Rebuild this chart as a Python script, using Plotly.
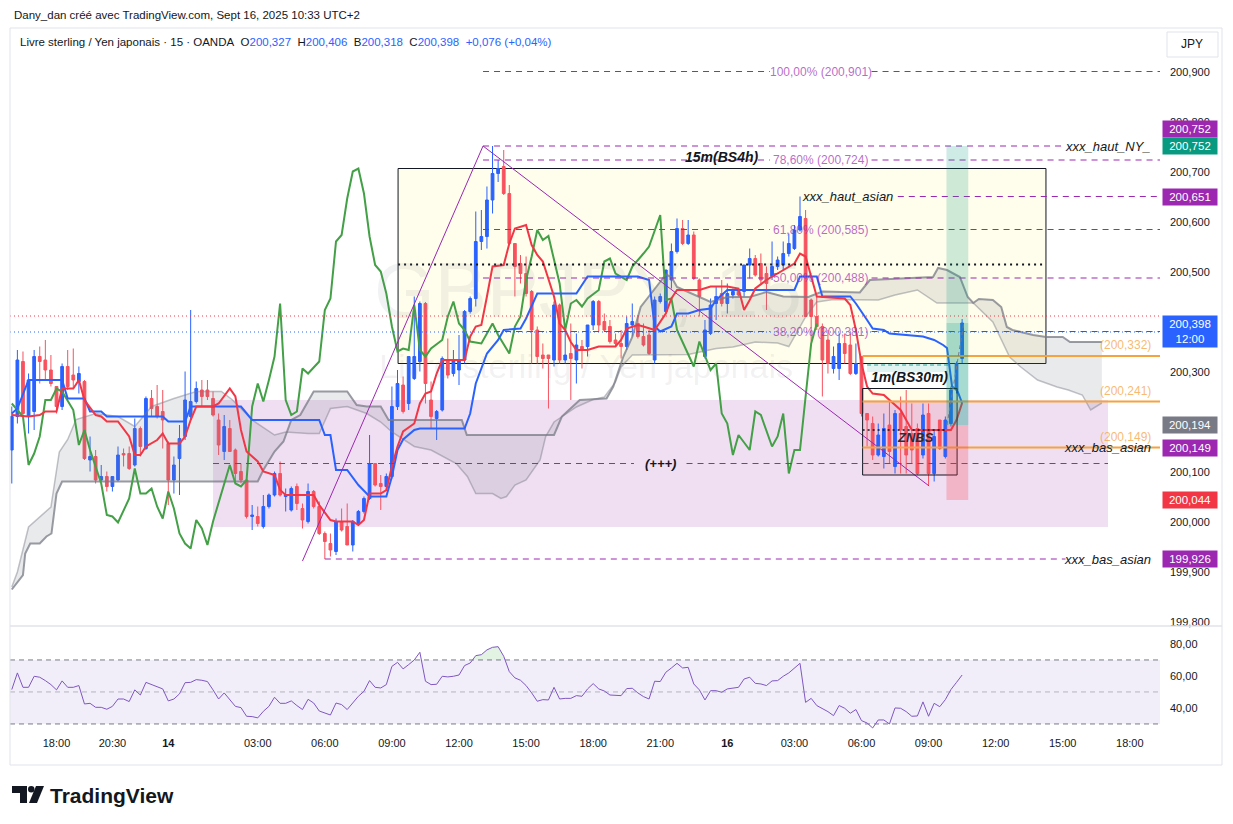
import plotly.graph_objects as go

# GBPJPY, 15 min, OANDA
# bar 0 = Friday 18:00, one bar = 15 min, the weekend gap is skipped
first_bar = -8

opens = [
    200.144, 200.211, 200.321, 200.211, 200.221, 200.331, 200.324, 200.304, 200.271, 200.231,
    200.311, 200.294, 200.281, 200.281, 200.124, 200.131, 200.084, 200.091, 200.071, 200.084,
    200.137, 200.137, 200.114, 200.187, 200.147, 200.247, 200.231, 200.221, 200.157, 200.084,
    200.127, 200.171, 200.211, 200.241, 200.264, 200.264, 200.247, 200.204, 200.141, 200.187,
    200.144, 200.101, 200.084, 200.011, 200.011, 199.991, 200.031, 200.054, 200.097, 200.051,
    200.024, 200.071, 200.027, 200.001, 200.061, 200.031, 199.977, 199.957, 199.941, 200.001,
    199.991, 199.954, 199.997, 200.021, 200.047, 200.117, 200.077, 200.071, 200.091, 200.231,
    200.274, 200.237, 200.287, 200.321, 200.437, 200.244, 200.207, 200.224, 200.324, 200.297,
    200.304, 200.324, 200.421, 200.447, 200.561, 200.571, 200.644, 200.697, 200.711, 200.657,
    200.557, 200.517, 200.497, 200.461, 200.384, 200.334, 200.334, 200.324, 200.434, 200.324,
    200.337, 200.324, 200.351, 200.351, 200.394, 200.441, 200.401, 200.391, 200.364, 200.357,
    200.351, 200.394, 200.397, 200.371, 200.374, 200.324, 200.441, 200.421, 200.484, 200.541,
    200.587, 200.557, 200.574, 200.484, 200.331, 200.377, 200.437, 200.457, 200.437, 200.454,
    200.461, 200.461, 200.514, 200.527, 200.517, 200.497, 200.491, 200.511, 200.514, 200.537,
    200.547, 200.584, 200.607, 200.444, 200.411, 200.391, 200.364, 200.307, 200.307, 200.357,
    200.354, 200.297, 200.331, 200.217, 200.197, 200.134, 200.131, 200.194, 200.111, 200.217,
    200.191, 200.177, 200.187, 200.134, 200.217, 200.097, 200.204, 200.131, 200.197, 200.264,
    200.327,
]
highs = [
    200.231, 200.344, 200.341, 200.297, 200.344, 200.351, 200.364, 200.334, 200.271, 200.317,
    200.344, 200.347, 200.311, 200.284, 200.171, 200.144, 200.114, 200.101, 200.091, 200.151,
    200.147, 200.151, 200.207, 200.191, 200.251, 200.264, 200.274, 200.264, 200.161, 200.131,
    200.194, 200.301, 200.424, 200.281, 200.284, 200.284, 200.261, 200.217, 200.214, 200.204,
    200.147, 200.117, 200.091, 200.034, 200.031, 200.054, 200.057, 200.101, 200.121, 200.067,
    200.071, 200.077, 200.037, 200.077, 200.064, 200.041, 199.981, 199.977, 200.007, 200.027,
    200.037, 200.004, 200.024, 200.051, 200.174, 200.117, 200.094, 200.097, 200.271, 200.304,
    200.291, 200.331, 200.451, 200.441, 200.440, 200.281, 200.224, 200.331, 200.367, 200.344,
    200.374, 200.424, 200.451, 200.621, 200.624, 200.671, 200.752, 200.724, 200.744, 200.674,
    200.557, 200.534, 200.531, 200.464, 200.391, 200.357, 200.334, 200.441, 200.437, 200.384,
    200.397, 200.377, 200.364, 200.394, 200.444, 200.444, 200.417, 200.404, 200.377, 200.384,
    200.411, 200.437, 200.414, 200.397, 200.384, 200.451, 200.457, 200.504, 200.557, 200.607,
    200.604, 200.604, 200.581, 200.487, 200.404, 200.447, 200.471, 200.484, 200.477, 200.467,
    200.464, 200.514, 200.547, 200.534, 200.537, 200.511, 200.561, 200.531, 200.561, 200.577,
    200.594, 200.651, 200.624, 200.447, 200.451, 200.397, 200.384, 200.351, 200.377, 200.377,
    200.377, 200.357, 200.331, 200.217, 200.211, 200.197, 200.217, 200.244, 200.224, 200.251,
    200.264, 200.237, 200.197, 200.237, 200.237, 200.184, 200.204, 200.211, 200.271, 200.321,
    200.406,
]
lows = [
    200.077, 200.197, 200.211, 200.177, 200.184, 200.277, 200.284, 200.271, 200.217, 200.224,
    200.264, 200.267, 200.257, 200.124, 200.101, 200.077, 200.081, 200.061, 200.061, 200.081,
    200.111, 200.104, 200.111, 200.131, 200.144, 200.211, 200.207, 200.147, 200.034, 200.057,
    200.054, 200.164, 200.204, 200.237, 200.231, 200.244, 200.211, 200.134, 200.124, 200.141,
    200.077, 200.077, 200.007, 199.984, 199.991, 199.987, 200.027, 200.051, 200.051, 200.021,
    200.021, 200.024, 199.987, 199.997, 200.027, 199.974, 199.926, 199.931, 199.934, 199.981,
    199.954, 199.941, 199.994, 200.017, 200.044, 200.071, 200.024, 200.067, 200.087, 200.224,
    200.217, 200.224, 200.284, 200.301, 200.237, 200.187, 200.164, 200.221, 200.287, 200.291,
    200.274, 200.317, 200.417, 200.431, 200.544, 200.547, 200.617, 200.680, 200.654, 200.554,
    200.451, 200.477, 200.451, 200.317, 200.317, 200.307, 200.227, 200.311, 200.317, 200.317,
    200.244, 200.277, 200.307, 200.331, 200.384, 200.381, 200.381, 200.357, 200.351, 200.327,
    200.344, 200.371, 200.367, 200.351, 200.334, 200.317, 200.437, 200.417, 200.467, 200.537,
    200.554, 200.554, 200.484, 200.411, 200.327, 200.374, 200.404, 200.431, 200.417, 200.447,
    200.451, 200.451, 200.487, 200.491, 200.477, 200.424, 200.484, 200.504, 200.504, 200.531,
    200.544, 200.581, 200.411, 200.361, 200.384, 200.251, 200.297, 200.297, 200.284, 200.317,
    200.294, 200.294, 200.211, 200.151, 200.124, 200.131, 200.107, 200.117, 200.097, 200.097,
    200.097, 200.117, 200.094, 200.127, 200.074, 200.081, 200.144, 200.127, 200.191, 200.257,
    200.318,
]
closes = [
    200.211, 200.324, 200.217, 200.284, 200.331, 200.321, 200.304, 200.277, 200.231, 200.311,
    200.271, 200.284, 200.297, 200.127, 200.131, 200.084, 200.091, 200.071, 200.091, 200.134,
    200.134, 200.107, 200.187, 200.151, 200.247, 200.227, 200.211, 200.204, 200.084, 200.114,
    200.167, 200.244, 200.241, 200.267, 200.251, 200.251, 200.214, 200.154, 200.191, 200.141,
    200.097, 200.084, 200.011, 200.014, 199.997, 200.031, 200.054, 200.097, 200.054, 200.054,
    200.067, 200.037, 200.004, 200.061, 200.031, 199.977, 199.961, 199.944, 200.001, 199.984,
    199.954, 200.001, 200.021, 200.047, 200.117, 200.074, 200.071, 200.091, 200.231, 200.277,
    200.221, 200.331, 200.331, 200.437, 200.277, 200.211, 200.221, 200.327, 200.294, 200.324,
    200.324, 200.421, 200.447, 200.561, 200.571, 200.644, 200.697, 200.707, 200.657, 200.557,
    200.511, 200.497, 200.457, 200.384, 200.331, 200.327, 200.327, 200.434, 200.324, 200.334,
    200.327, 200.354, 200.344, 200.394, 200.441, 200.394, 200.384, 200.361, 200.357, 200.351,
    200.397, 200.401, 200.371, 200.354, 200.337, 200.444, 200.451, 200.504, 200.541, 200.587,
    200.557, 200.574, 200.487, 200.451, 200.384, 200.434, 200.451, 200.437, 200.457, 200.461,
    200.454, 200.514, 200.527, 200.494, 200.484, 200.477, 200.511, 200.524, 200.537, 200.557,
    200.584, 200.611, 200.411, 200.411, 200.391, 200.324, 200.317, 200.331, 200.357, 200.337,
    200.297, 200.317, 200.217, 200.204, 200.134, 200.174, 200.187, 200.141, 200.217, 200.184,
    200.134, 200.144, 200.097, 200.214, 200.097, 200.171, 200.147, 200.204, 200.264, 200.317,
    200.398,
]
rsi = [
    51.5, 61.9, 52.9, 52.9, 59.8, 59.2, 57.1, 54.6, 51.3, 56.9,
    52.9, 52.9, 54.0, 42.5, 42.9, 40.4, 40.4, 39.2, 41.0, 45.6,
    45.6, 44.0, 51.3, 48.1, 56.0, 54.6, 52.9, 51.9, 44.4, 45.6,
    48.8, 55.8, 56.0, 57.7, 57.3, 56.5, 51.3, 45.6, 49.4, 45.2,
    41.0, 40.2, 34.8, 34.6, 33.8, 37.9, 41.0, 46.7, 42.9, 42.9,
    44.4, 41.5, 39.0, 45.4, 43.1, 38.1, 36.7, 35.6, 43.1, 42.1,
    39.0, 43.5, 47.3, 50.4, 57.1, 52.9, 52.5, 54.6, 66.0, 68.5,
    64.4, 67.1, 70.0, 74.8, 56.7, 54.6, 54.8, 59.8, 59.4, 59.8,
    60.6, 66.5, 68.1, 72.7, 73.3, 76.3, 77.9, 78.3, 72.3, 62.7,
    58.8, 57.3, 54.0, 49.4, 44.2, 45.2, 45.0, 52.9, 45.6, 46.0,
    46.0, 47.7, 47.3, 51.9, 55.2, 51.9, 50.6, 48.1, 47.9, 47.7,
    52.1, 52.3, 49.4, 47.1, 45.6, 56.7, 56.5, 62.3, 65.0, 67.9,
    65.0, 65.4, 55.0, 51.3, 45.0, 50.8, 50.8, 49.8, 51.9, 52.3,
    52.9, 58.1, 59.2, 55.4, 55.0, 54.0, 56.9, 57.1, 59.8, 61.9,
    65.0, 67.9, 43.5, 46.0, 41.5, 39.8, 37.7, 35.2, 41.5, 39.8,
    36.7, 39.0, 32.1, 30.6, 27.5, 32.5, 32.5, 30.0, 40.0, 39.8,
    37.7, 34.8, 35.0, 43.8, 34.8, 42.9, 40.8, 45.2, 51.5, 56.0,
    60.6,
]
bars = list(range(first_bar, first_bar + len(closes)))

# Ichimoku, read as (bar, price) points
tenkan = [(-8, 200.214), (-5, 200.211), (-3, 200.214), (-2, 200.221), (0, 200.221), (1, 200.267),
          (3, 200.267), (4, 200.284), (5, 200.244), (7, 200.214), (8, 200.211), (9, 200.201),
          (11, 200.201), (13, 200.171), (14, 200.134), (15, 200.134), (16, 200.151), (18, 200.164),
          (19, 200.177), (20, 200.157), (22, 200.157), (23, 200.171), (24, 200.204), (25, 200.231),
          (28, 200.231), (29, 200.237), (31, 200.267), (32, 200.251), (33, 200.184), (34, 200.141),
          (36, 200.121), (37, 200.101), (39, 200.094), (40, 200.064), (41, 200.054), (46, 200.054),
          (47, 200.034), (49, 200.004), (50, 200.001), (53, 200.001), (54, 199.994), (55, 200.004),
          (56, 200.057), (58, 200.057), (59, 200.064), (60, 200.111), (61, 200.151), (62, 200.181),
          (64, 200.197), (65, 200.237), (66, 200.257), (67, 200.261), (68, 200.297), (69, 200.324),
          (73, 200.324), (74, 200.371), (75, 200.391), (76, 200.394), (77, 200.451), (78, 200.511),
          (80, 200.514), (81, 200.557), (82, 200.587), (84, 200.594), (85, 200.554), (86, 200.534),
          (87, 200.521), (89, 200.451), (90, 200.397), (91, 200.384), (92, 200.360), (93, 200.344),
          (95, 200.344), (97, 200.351), (100, 200.351), (101, 200.364), (102, 200.387), (104, 200.394),
          (105, 200.391), (107, 200.384), (109, 200.417), (110, 200.447), (111, 200.464), (115, 200.464),
          (117, 200.471), (120, 200.471), (122, 200.467), (123, 200.424), (124, 200.444), (125, 200.467),
          (127, 200.484), (129, 200.497), (130, 200.504), (132, 200.517), (133, 200.537), (134, 200.531),
          (135, 200.491), (136, 200.451), (141, 200.447), (142, 200.434), (143, 200.384), (144, 200.317),
          (145, 200.271), (146, 200.257), (148, 200.254), (149, 200.244), (151, 200.224), (152, 200.204),
          (153, 200.184), (160, 200.184), (161, 200.204), (162, 200.238)]
kijun = [(-8, 200.217), (-7, 200.227), (-5, 200.284), (1, 200.284), (2, 200.247), (5, 200.247),
         (6, 200.221), (8, 200.221), (9, 200.211), (19, 200.211), (20, 200.201), (23, 200.201),
         (24, 200.231), (33, 200.231), (35, 200.204), (47, 200.204), (48, 200.174), (49, 200.174),
         (50, 200.104), (52, 200.104), (54, 200.074), (56, 200.051), (59, 200.051), (60, 200.091),
         (61, 200.144), (62, 200.165), (64, 200.184), (65, 200.187), (73, 200.187), (74, 200.217),
         (75, 200.277), (77, 200.337), (79, 200.364), (80, 200.384), (83, 200.387), (84, 200.407),
         (86, 200.457), (93, 200.457), (95, 200.491), (104, 200.491), (106, 200.484), (107, 200.391),
         (108, 200.381), (110, 200.391), (111, 200.417), (113, 200.417), (115, 200.424), (117, 200.427),
         (118, 200.444), (120, 200.464), (132, 200.464), (133, 200.491), (136, 200.491), (137, 200.451),
         (142, 200.451), (143, 200.437), (145, 200.404), (146, 200.387), (148, 200.384), (149, 200.377),
         (155, 200.371), (157, 200.364), (158.6, 200.354), (159.3, 200.348), (160.2, 200.271),
         (161.1, 200.264), (162, 200.238)]
chikou = [(-8, 200.237), (-6, 200.211), (-5, 200.114), (-4, 200.137), (-3, 200.171), (-2, 200.244),
          (-1, 200.244), (0, 200.267), (1, 200.261), (3, 200.224), (4, 200.154), (5, 200.184),
          (6, 200.144), (8, 200.077), (9, 200.014), (10, 200.011), (11, 199.999), (13, 200.047),
          (14, 200.107), (15, 200.057), (16, 200.057), (17, 200.067), (18, 200.031), (19, 200.007),
          (20, 200.061), (21, 200.027), (22, 199.977), (23, 199.957), (24, 199.947), (25, 200.004),
          (26, 199.987), (27, 199.954), (28, 200.001), (29, 200.037), (31, 200.114), (32, 200.077),
          (33, 200.071), (34, 200.084), (35, 200.231), (36, 200.277), (37, 200.241), (38, 200.284),
          (39, 200.331), (40, 200.437), (41, 200.244), (42, 200.214), (43, 200.221), (44, 200.307),
          (45, 200.297), (47, 200.321), (48, 200.424), (49, 200.447), (50, 200.561), (51, 200.574),
          (52, 200.647), (53, 200.701), (54, 200.707), (55, 200.657), (56, 200.571), (57, 200.514),
          (58, 200.501), (59, 200.457), (60, 200.391), (61, 200.341), (62, 200.347), (63, 200.344),
          (64, 200.434), (65, 200.344), (66, 200.331), (67, 200.347), (68, 200.355), (69, 200.364),
          (70, 200.411), (71, 200.441), (72, 200.397), (73, 200.384), (74, 200.361), (76, 200.357),
          (78, 200.397), (79, 200.374), (81, 200.337), (82, 200.391), (83, 200.411), (84, 200.484),
          (85, 200.531), (86, 200.584), (87, 200.564), (88, 200.572), (90, 200.477), (91, 200.384),
          (92, 200.437), (93, 200.444), (94, 200.431), (95, 200.447), (97, 200.464), (98, 200.521),
          (99, 200.527), (100, 200.497), (102, 200.484), (103, 200.511), (105, 200.537), (106, 200.551),
          (108, 200.614), (109, 200.444), (110, 200.447), (111, 200.384), (114, 200.311), (115, 200.361),
          (117, 200.304), (118, 200.317), (119, 200.217), (120, 200.197), (121, 200.134), (122, 200.174),
          (124, 200.144), (125, 200.221), (126, 200.214), (128, 200.151), (129, 200.171), (130, 200.217),
          (131, 200.097), (132, 200.144), (133, 200.144), (134, 200.251), (135, 200.357), (136, 200.397)]
kumo_a = [(-8, 199.870), (-7, 199.900), (-5, 199.990), (-1, 200.030), (0.5, 200.140), (2, 200.165),
          (3.5, 200.205), (7, 200.217), (11, 200.211), (14, 200.191), (17, 200.231), (21, 200.247),
          (25, 200.261), (29.5, 200.261), (31.5, 200.244), (35, 200.204), (39, 200.174), (41, 200.180),
          (45, 200.177), (47, 200.177), (49, 200.227), (52, 200.231), (55.5, 200.217), (58, 200.200),
          (60, 200.180), (64, 200.151), (67, 200.144), (71.5, 200.117), (73.5, 200.091), (75, 200.057),
          (78, 200.057), (79.5, 200.047), (80.5, 200.051), (82, 200.074), (84, 200.084), (86.5, 200.124),
          (87.5, 200.171), (89, 200.200), (91, 200.215), (93, 200.230), (96, 200.245), (98, 200.250),
          (100, 200.280), (101, 200.310), (103, 200.334), (108, 200.335), (113, 200.335), (118, 200.347),
          (121, 200.350), (125, 200.360), (129, 200.358), (131, 200.351), (134, 200.410), (136, 200.440),
          (139, 200.445), (147, 200.444), (150, 200.454), (154, 200.464), (157.5, 200.438), (164, 200.438),
          (167.5, 200.400), (170.5, 200.330), (172.5, 200.310), (175.5, 200.284), (179, 200.270),
          (181, 200.264), (183.5, 200.254), (185, 200.224), (187, 200.238)]
kumo_b = [(-8, 199.865), (-6, 199.894), (-5.6, 199.937), (-4.7, 199.957), (-3, 199.957), (-1.8, 199.971),
          (-0.9, 199.977), (0, 200.057), (1, 200.081), (36, 200.081), (37, 200.104), (39, 200.141),
          (40.6, 200.161), (42, 200.204), (43.6, 200.214), (46, 200.261), (52, 200.261), (53.7, 200.234),
          (55.5, 200.231), (58, 200.231), (59.4, 200.204), (72.5, 200.204), (73.4, 200.174), (89, 200.174),
          (90.4, 200.211), (93.6, 200.244), (98.4, 200.247), (99.6, 200.271), (100.8, 200.311),
          (101.4, 200.331), (103, 200.370), (104.5, 200.430), (107, 200.466), (109, 200.495), (110, 200.490),
          (111, 200.470), (113, 200.460), (117, 200.440), (120, 200.450), (124, 200.450), (127, 200.460),
          (130, 200.451), (134.5, 200.450), (137, 200.461), (143.7, 200.459), (145.5, 200.484),
          (153, 200.488), (156.8, 200.490), (157.7, 200.508), (159.3, 200.504), (161.6, 200.490),
          (163, 200.450), (164, 200.438), (165, 200.446), (167.5, 200.444), (169, 200.430), (170, 200.390),
          (171, 200.384), (174.7, 200.374), (177, 200.370), (180, 200.370), (181.3, 200.360), (187, 200.360)]

# drawings
fib_trend = [(44, 199.922), (76.3, 200.752), (156.1, 200.072)]
fib_names = ["100,00%", "78,60%", "61,80%", "50,00%", "38,20%"]
fib_levels = [200.901, 200.724, 200.585, 200.488, 200.381]
ny_high = 200.752
asian_high = 200.651
asian_low = 199.926
asian_low_1m = 200.149
orange_levels = [200.332, 200.241, 200.149]
plus_level = 200.117
bs4h_box = [200.317, 200.707]
bs4h_mid = 200.515
zone_box = [199.990, 200.244]
bs30_box = [200.094, 200.267]
znbs_level = 200.184
pos_target, pos_entry, pos_stop, last_price = 200.752, 200.194, 200.044, 200.398
ask_price, bid_price = 200.412, 200.380

price_ticks = [199.8, 199.9, 200.0, 200.1, 200.3, 200.5, 200.6, 200.7, 200.8, 200.9]
rsi_ticks = [40, 60, 80]
time_ticks = [0, 10, 20, 36, 48, 60, 72, 84, 96, 108, 120, 132, 144, 156, 168, 180, 192]
time_labels = ["18:00", "20:30", "<b>14</b>", "03:00", "06:00", "09:00", "12:00", "15:00", "18:00",
               "21:00", "<b>16</b>", "03:00", "06:00", "09:00", "12:00", "15:00", "18:00"]

# screen frame in window pixels; the page body adds an 8 px margin
OFF = 8
W, H = 1233 - 2 * OFF, 824 - 2 * OFF
L, R, T, B = 10, 1222, 28, 765


def paper_x(px):
    return (px - L) / (R - L)


def paper_y(py):
    return (B - py) / (B - T)


def fmt(v):
    return f"{v:.3f}".replace(".", ",")


X0, X1 = -8.32, 197.4
Y0, Y1 = 199.792, 200.988
PURPLE = "#9C27B0"
ORANGE = "#F5A33F"

fig = go.Figure()

# kumo
ax, ay = zip(*kumo_a)
bx, by = zip(*kumo_b)
fig.add_trace(go.Scatter(x=ax, y=ay, mode="lines", line=dict(color="rgba(120,123,134,0.45)", width=1.5)))
fig.add_trace(go.Scatter(x=bx, y=by, mode="lines", line=dict(color="rgba(120,123,134,0.75)", width=2),
                         fill="tonexty", fillcolor="rgba(120,123,134,0.16)"))

fig.add_trace(go.Candlestick(
    x=bars, open=opens, high=highs, low=lows, close=closes,
    increasing=dict(line=dict(color="#2962FF", width=1), fillcolor="#2962FF"),
    decreasing=dict(line=dict(color="#F7525F", width=1), fillcolor="#F7525F"),
    whiskerwidth=0, hoverinfo="skip"))

for pts, col in [(chikou, "#43A047"), (kijun, "#2962FF"), (tenkan, "#F23645")]:
    px_, py_ = zip(*pts)
    fig.add_trace(go.Scatter(x=px_, y=py_, mode="lines", line=dict(color=col, width=2)))

tx, ty = zip(*fib_trend)
fig.add_trace(go.Scatter(x=tx, y=ty, mode="lines", line=dict(color=PURPLE, width=1)))

# RSI pane: overbought fill for the Monday 13:00 push, then the line
i0, i1 = 74 - first_bar, 81 - first_bar
x_in = i0 + (70 - rsi[i0]) / (rsi[i0 + 1] - rsi[i0])
x_out = i1 - 1 + (rsi[i1 - 1] - 70) / (rsi[i1 - 1] - rsi[i1])
ob_x = [x_in + first_bar] + bars[i0 + 1:i1] + [x_out + first_bar]
ob_y = [70] + rsi[i0 + 1:i1] + [70]
fig.add_trace(go.Scatter(x=ob_x, y=ob_y, mode="lines", fill="toself", xaxis="x2", yaxis="y2",
                         fillcolor="rgba(76,175,80,0.16)", line=dict(width=0)))
fig.add_trace(go.Scatter(x=bars, y=rsi, mode="lines", xaxis="x2", yaxis="y2",
                         line=dict(color="#7E57C2", width=1)))

shapes = []
annotations = []


def hline(x0, x1, y, color, dash="6px,5px", width=1, layer="above", xref="x", yref="y"):
    shapes.append(dict(type="line", xref=xref, yref=yref, x0=x0, x1=x1, y0=y, y1=y,
                       line=dict(color=color, width=width, dash=dash), layer=layer))


def rect(x0, x1, y0, y1, fill, border=None, layer="below", xref="x", yref="y"):
    shapes.append(dict(type="rect", xref=xref, yref=yref, x0=x0, x1=x1, y0=y0, y1=y1,
                       fillcolor=fill, layer=layer,
                       line=dict(color=border or "rgba(0,0,0,0)", width=1 if border else 0)))


def note(x, y, text, size=12, color="#131722", xanchor="center", yanchor="middle",
         xref="x", yref="y", **kw):
    annotations.append(dict(x=x, y=y, xref=xref, yref=yref, text=text, showarrow=False,
                            xanchor=xanchor, yanchor=yanchor, font=dict(size=size, color=color), **kw))


# zones and boxes
rect(28.0, 188.1, zone_box[0], zone_box[1], "rgba(156,39,176,0.15)")
rect(61.1, 177.0, bs4h_box[0], bs4h_box[1], "rgba(255,235,59,0.10)", "#131722")
rect(144.2, 161.1, bs30_box[0], orange_levels[1], "rgba(242,54,69,0.12)")
rect(144.2, 161.1, orange_levels[1], bs30_box[1], "rgba(255,235,59,0.12)")
rect(145.0, 159.5, 200.300, 200.318, "rgba(8,153,129,0.12)")
hline(145.0, 159.5, 200.314, "#26A69A", dash="4px,3px")
rect(144.2, 161.1, bs30_box[0], bs30_box[1], "rgba(0,0,0,0)", "#131722", layer="above")
hline(144.2, 159.3, znbs_level, "#131722", dash="2px,3px", width=1.5)
hline(61.1, 177.0, bs4h_mid, "#131722", dash="2px,4px", width=2)

# bid / ask
hline(X0, X1, ask_price, "#F23645", dash="1px,3px")
hline(X0, X1, bid_price, "#2962FF", dash="1px,3px")

# fib levels
for name, lvl in zip(fib_names, fib_levels):
    hline(76.3, 127.6, lvl, PURPLE)
    hline(145.8, X1, lvl, PURPLE)
    note(136.7, lvl, f"{name} ({fmt(lvl)})", size=12, color="rgba(156,39,176,0.7)")

# session levels
hline(76.3, 180.5, ny_high, PURPLE)
note(196.2, ny_high, "<i>xxx_haut_NY_</i>", size=13, xanchor="right")
hline(150.5, X1, asian_high, PURPLE)
note(133.0, asian_high, "<i>xxx_haut_asian</i>", size=13, xanchor="left")
hline(48.0, 180.5, asian_low, PURPLE)
note(196.2, asian_low, "<i>xxx_bas_asian</i>", size=13, xanchor="right")
hline(144.2, 180.5, asian_low_1m, "#555555")
hline(28.0, 103.3, plus_level, PURPLE)
hline(112.7, 188.1, plus_level, PURPLE)
note(108.0, plus_level, "<b><i>(+++)</i></b>", size=13)

for lvl in orange_levels:
    hline(144.2, X1, lvl, ORANGE, dash="solid", width=2)
    note(196.2, lvl, f"({fmt(lvl)})", size=12, color="rgba(245,163,63,0.75)",
         xanchor="right", yanchor="bottom", yshift=2)
note(196.2, asian_low_1m, "<i>xxx_bas_asian</i>", size=13, xanchor="right")

# long position tool
rect(159.2, 163.1, pos_entry, pos_target, "rgba(8,153,129,0.20)", layer="above")
rect(159.2, 163.1, pos_entry, last_price, "rgba(8,153,129,0.20)", layer="above")
rect(159.2, 163.1, pos_stop, pos_entry, "rgba(242,54,69,0.25)", layer="above")
shapes.append(dict(type="line", xref="x", yref="y", x0=159.3, y0=pos_entry, x1=162.3, y1=last_price,
                   line=dict(color="#787B86", width=1, dash="4px,3px")))

note(119.0, 200.730, "<b><i>15m(BS4h)</i></b>", size=14)
note(152.5, 200.290, "<b><i>1m(BS30m)</i></b>", size=14)
note(153.6, 200.170, "<b><i>ZNBS</i></b>", size=13, color="#2a2e39")

# RSI band and levels
rect(X0, X1, 30, 70, "rgba(126,87,194,0.10)", xref="x2", yref="y2")
hline(X0, X1, 70, "#787B86", dash="5px,4px", xref="x2", yref="y2")
hline(X0, X1, 50, "rgba(120,123,134,0.5)", dash="5px,4px", xref="x2", yref="y2")
hline(X0, X1, 30, "#787B86", dash="5px,4px", xref="x2", yref="y2")

# price scale tags
tags = [(ny_high, fmt(ny_high), PURPLE, 17), (pos_target, fmt(pos_target), "#089981", 0),
        (asian_high, fmt(asian_high), PURPLE, 0), (last_price, fmt(last_price) + "<br>12:00", "#2962FF", -8),
        (pos_entry, fmt(pos_entry), "#787B86", 0), (asian_low_1m, fmt(asian_low_1m), PURPLE, 0),
        (pos_stop, fmt(pos_stop), "#F23645", 0), (asian_low, fmt(asian_low), PURPLE, 0)]
for lvl, txt, col, shift in tags:
    note(paper_x(1190), lvl, txt, size=11.5, color="white", xref="paper", bgcolor=col,
         borderpad=2, width=50, yshift=shift)

# frame, pane separator, JPY button
shapes.append(dict(type="rect", xref="paper", yref="paper", x0=0, x1=1, y0=0, y1=1,
                   line=dict(color="#E0E3EB", width=1), layer="above"))
shapes.append(dict(type="line", xref="paper", yref="paper", x0=0, x1=1, y0=paper_y(626), y1=paper_y(626),
                   line=dict(color="#E0E3EB", width=1.5)))
shapes.append(dict(type="rect", xref="paper", yref="paper", x0=paper_x(1167), x1=paper_x(1218),
                   y0=paper_y(57), y1=paper_y(32), line=dict(color="#E0E3EB", width=1),
                   fillcolor="white", layer="above"))
note(paper_x(1192), paper_y(44.5), "JPY", size=12, xref="paper", yref="paper")

# watermark
note(paper_x(588), paper_y(290), "GBPJPY, 15", size=78, color="rgba(120,123,134,0.10)",
     xref="paper", yref="paper")
note(paper_x(586), paper_y(366), "Livre sterling / Yen japonais", size=34,
     color="rgba(120,123,134,0.10)", xref="paper", yref="paper")

# header and legend
note(paper_x(12), paper_y(15), "Dany_dan créé avec TradingView.com, Sept 16, 2025 10:33 UTC+2", size=11.5,
     color="#131722", xref="paper", yref="paper", xanchor="left")
blue = "<span style='color:#2962FF'>{}</span>"
gap = "&nbsp;&nbsp;"
legend = (f"Livre sterling / Yen japonais · 15 · OANDA{gap}"
          f"O{blue.format(fmt(opens[-1]))}{gap}H{blue.format(fmt(highs[-1]))}{gap}"
          f"B{blue.format(fmt(lows[-1]))}{gap}C{blue.format(fmt(closes[-1]))}{gap}"
          + blue.format("+0,076 (+0,04%)"))
note(paper_x(18), paper_y(42), legend, size=11.5, xref="paper", yref="paper", xanchor="left")


# TradingView logo
def p(x, y):
    return f"{paper_x(x):.5f},{paper_y(y):.5f}"


shapes.append(dict(type="path", xref="paper", yref="paper", fillcolor="#131722", line=dict(width=0),
                   path=f"M{p(12, 786)} L{p(27, 786)} L{p(27, 803)} L{p(20, 803)} L{p(20, 793)} L{p(12, 793)} Z"))
shapes.append(dict(type="circle", xref="paper", yref="paper", fillcolor="#131722", line=dict(width=0),
                   x0=paper_x(28), x1=paper_x(34.5), y0=paper_y(792.5), y1=paper_y(786)))
shapes.append(dict(type="path", xref="paper", yref="paper", fillcolor="#131722", line=dict(width=0),
                   path=f"M{p(36, 786)} L{p(44, 786)} L{p(37, 803)} L{p(29, 803)} Z"))
note(paper_x(48), paper_y(795), "<b>TradingView</b>", size=21, xref="paper", yref="paper",
     xanchor="left")

axis_font = dict(size=11, color="#131722")
fig.update_layout(
    width=W, height=H,
    margin=dict(l=L - OFF, r=W - (R - OFF), t=T - OFF, b=H - (B - OFF)),
    paper_bgcolor="white", plot_bgcolor="white", showlegend=False, hovermode=False,
    separators=", ", font=dict(family="Liberation Sans, Arial, sans-serif", color="#131722"),
    xaxis=dict(domain=[0, paper_x(1160)], range=[X0, X1], anchor="y", showticklabels=False,
               showgrid=False, zeroline=False, showline=False, rangeslider=dict(visible=False)),
    yaxis=dict(domain=[paper_y(626), 1], range=[Y0, Y1], anchor="x", side="right",
               tickvals=price_ticks, tickformat=".3f", showgrid=False, zeroline=False, ticks="",
               ticklabelstandoff=9, tickfont=axis_font),
    xaxis2=dict(domain=[0, paper_x(1160)], range=[X0, X1], anchor="y2", tickvals=time_ticks,
                ticktext=time_labels, showgrid=False, zeroline=False, ticks="", tickfont=axis_font),
    yaxis2=dict(domain=[paper_y(735), paper_y(627)], range=[23.1, 90.6], anchor="x2", side="right",
                tickvals=rsi_ticks, tickformat=".2f", showgrid=False, zeroline=False, ticks="",
                ticklabelstandoff=9, tickfont=axis_font),
    shapes=shapes, annotations=annotations,
)

fig.write_html("out.html")
